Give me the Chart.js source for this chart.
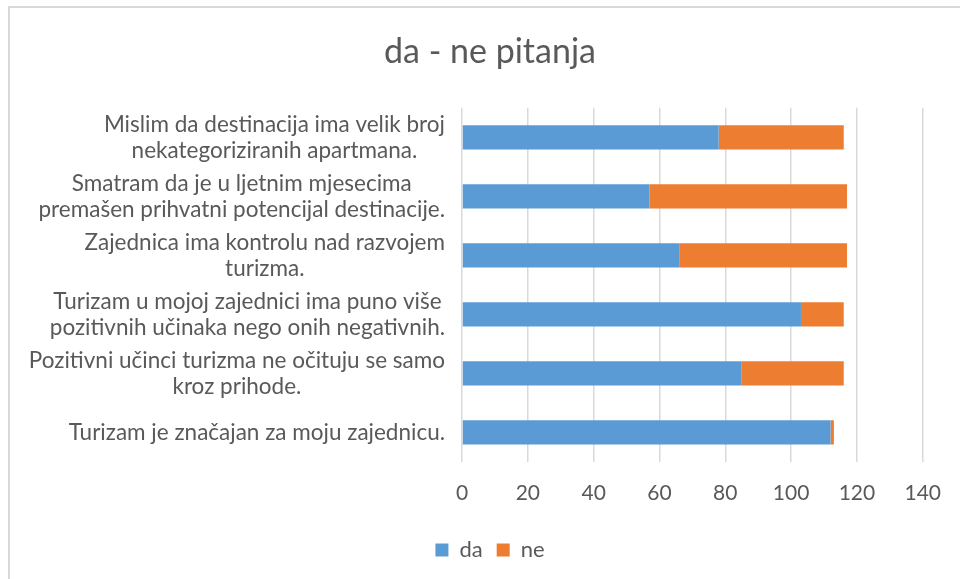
<!DOCTYPE html>
<html>
<head>
<meta charset="utf-8">
<script src="https://cdn.jsdelivr.net/npm/chart.js@4/dist/chart.umd.min.js"></script>
<style>
  html, body { margin: 0; padding: 0; background: #fff; }
  canvas { display: block; }
</style>
</head>
<body>
<canvas id="chart" width="960" height="579"></canvas>
<script>
    'use strict';

    var categories = [
        ['Mislim da destinacija ima velik broj', 'nekategoriziranih apartmana.'],
        ['Smatram da je u ljetnim mjesecima', 'premašen prihvatni potencijal destinacije.'],
        ['Zajednica ima kontrolu nad razvojem', 'turizma.'],
        ['Turizam u mojoj zajednici ima puno više', 'pozitivnih učinaka nego onih negativnih.'],
        ['Pozitivni učinci turizma ne očituju se samo', 'kroz prihode.'],
        ['Turizam je značajan za moju zajednicu.']
    ];
    var daValues = [78, 57, 66, 103, 85, 112];
    var neValues = [38, 60, 51, 13, 31, 1];
    var xTicks = [0, 20, 40, 60, 80, 100, 120, 140];

    var textColor = '#595959';
    var fontFamily = 'Lato, "Open Sans", sans-serif';
    var catSize = 22.5;

    // chart frame, like the office chart border
    var framePlugin = {
        id: 'frame',
        beforeDraw: function (chart) {
            var ctx = chart.ctx;
            ctx.save();
            ctx.fillStyle = '#fff';
            ctx.fillRect(0, 0, chart.width, chart.height);
            ctx.strokeStyle = '#d9d9d9';
            ctx.lineWidth = 2;
            ctx.strokeRect(9, 7, chart.width + 20, chart.height + 20);
            ctx.restore();
        }
    };

    // category labels: block right aligned, lines centred inside the block
    var catLabels = {
        id: 'catLabels',
        afterDraw: function (chart) {
            var ctx = chart.ctx;
            var scale = chart.scales.y;
            var right = scale.right - 17;
            var lh = 26;
            ctx.save();
            ctx.font = catSize + 'px ' + fontFamily;
            ctx.fillStyle = textColor;
            ctx.textAlign = 'center';
            ctx.textBaseline = 'middle';
            categories.forEach(function (lines, i) {
                var y = scale.getPixelForTick(i);
                var widest = 0;
                lines.forEach(function (l) { widest = Math.max(widest, ctx.measureText(l).width); });
                var cx = right - widest / 2;
                lines.forEach(function (l, j) {
                    ctx.fillText(l, cx, y + (j - (lines.length - 1) / 2) * lh);
                });
            });
            ctx.restore();
        }
    };

    new Chart(document.getElementById('chart'), {
        type: 'bar',
        data: {
            labels: categories,
            datasets: [
                { label: 'da', data: daValues, backgroundColor: '#5b9bd5', borderWidth: 0 },
                { label: 'ne', data: neValues, backgroundColor: '#ed7d31', borderWidth: 0 }
            ]
        },
        options: {
            indexAxis: 'y',
            responsive: false,
            animation: false,
            layout: { padding: { left: 57, right: 37, top: 0, bottom: 8 } },
            datasets: { bar: { categoryPercentage: 0.41, barPercentage: 1 } },
            scales: {
                x: {
                    stacked: true,
                    min: 0,
                    max: 140,
                    afterBuildTicks: function (axis) {
                        axis.ticks = xTicks.map(function (v) { return { value: v }; });
                    },
                    grid: { color: '#d9d9d9', lineWidth: 1.5, drawTicks: false },
                    border: { display: false },
                    ticks: {
                        color: textColor,
                        padding: 19,
                        font: { family: fontFamily, size: 21 }
                    }
                },
                y: {
                    stacked: true,
                    grid: { display: false },
                    border: { display: false },
                    ticks: { display: false },
                    afterFit: function (scale) { scale.width = 405; }
                }
            },
            plugins: {
                title: {
                    display: true,
                    text: 'da - ne pitanja',
                    color: textColor,
                    font: { family: fontFamily, size: 34, weight: 'normal' },
                    padding: { top: 32, bottom: 35 }
                },
                legend: {
                    position: 'bottom',
                    labels: {
                        color: textColor,
                        boxWidth: 13,
                        boxHeight: 13,
                        padding: 14,
                        font: { family: fontFamily, size: 22 }
                    }
                },
                tooltip: { enabled: false }
            }
        },
        plugins: [framePlugin, catLabels]
    });
</script>
</body>
</html>
